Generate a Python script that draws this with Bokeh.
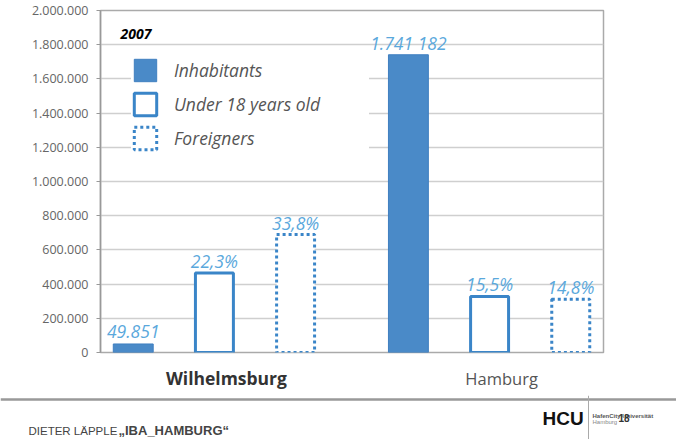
from bokeh.plotting import figure
from bokeh.models import (ColumnDataSource, FactorRange, Range1d, Legend, LegendItem,
                          Label, Span, SingleIntervalTicker, CustomJSTickFormatter)
from bokeh.transform import dodge
from bokeh.layouts import column
from bokeh.core.properties import value
from bokeh.embed import file_html
from bokeh.resources import INLINE

# ---- data ----
groups = ["Wilhelmsburg", "Hamburg"]
series = ["Inhabitants", "Under 18 years old", "Foreigners"]
inhabitants = [49851, 1741182]
under18 = [465000, 328000]          # bar heights as drawn
foreigners = [690000, 311000]       # bar heights as drawn
inhabitant_labels = ["49.851", "1.741 182"]
under18_labels = ["22,3%", "15,5%"]
foreigner_labels = ["33,8%", "14,8%"]
group_styles = ["bold", "normal"]
group_colors = ["#333333", "#555555"]
group_sizes = ["17.5px", "16.5px"]
year_label = "2007"

BLUE_FILL = "#4a8ac8"
BLUE_LINE = "#3a85c8"
LABEL_BLUE = "#5aa8dc"
FONT = "Open Sans"

src = ColumnDataSource(dict(group=groups, inh=inhabitants, u18=under18, frn=foreigners,
                            inh_l=inhabitant_labels, u18_l=under18_labels, frn_l=foreigner_labels,
                            style=group_styles, color=group_colors, size=group_sizes))

xr = FactorRange(factors=groups, range_padding=-0.086)
p = figure(width=676, height=360, x_range=xr,
           y_range=Range1d(0, 2000000), output_backend="svg", toolbar_location=None,
           min_border_left=100, min_border_right=73, min_border_top=10, min_border_bottom=8)

OFF = 0.295
r1 = p.vbar(x=dodge("group", -OFF, range=xr), top="inh", width=0.145, source=src,
            fill_color=BLUE_FILL, line_color="#3f7fc0", line_width=1)
r2 = p.vbar(x=dodge("group", 0.0, range=xr), top="u18", width=0.138, source=src,
            fill_color="white", line_color=BLUE_LINE, line_width=3)
r3 = p.vbar(x=dodge("group", OFF, range=xr), top="frn", width=0.138, source=src,
            fill_color="white", line_color=BLUE_LINE, line_width=3, line_dash="3 3")

for off, col in [(-OFF, "inh"), (0.0, "u18"), (OFF, "frn")]:
    p.text(x=dodge("group", off, range=xr), y=col, text=col + "_l", source=src,
           text_align="center", text_baseline="middle", y_offset=-12,
           text_font=value(FONT), text_font_style="italic", text_font_size="17.5px",
           text_color=LABEL_BLUE)

legend = Legend(items=[LegendItem(label=series[0], renderers=[r1]),
                       LegendItem(label=series[1], renderers=[r2]),
                       LegendItem(label=series[2], renderers=[r3])],
                location=(31, 200), glyph_width=28, glyph_height=28, label_height=28,
                spacing=6, padding=10, label_standoff=15, label_width=195,
                label_text_font=FONT, label_text_font_style="italic",
                label_text_font_size="17.5px", label_text_color="#555555",
                background_fill_color="white", background_fill_alpha=1.0,
                border_line_color=None)
p.add_layout(legend, "center")

p.add_layout(Label(x=20, y=1863000, x_units="screen", y_units="data", text=year_label,
                   text_font=FONT, text_font_style="bold italic", text_font_size="14px",
                   text_color="black", text_baseline="middle"))

p.xaxis.visible = False
p.xgrid.grid_line_color = None
p.ygrid.grid_line_color = "#cfcfcf"
p.ygrid.grid_line_width = 1.5
p.yaxis.ticker = SingleIntervalTicker(interval=200000)
p.yaxis.formatter = CustomJSTickFormatter(
    code="return String(Math.round(tick)).replace(/\\B(?=(\\d{3})+(?!\\d))/g, '.');")
p.yaxis.minor_tick_line_color = None
p.yaxis.major_tick_in = 0
p.yaxis.major_tick_out = 4
p.yaxis.major_tick_line_color = "#999999"
p.yaxis.axis_line_color = "#999999"
p.yaxis.axis_line_width = 1.5
p.yaxis.major_label_text_font = FONT
p.yaxis.major_label_text_font_size = "12.5px"
p.yaxis.major_label_text_color = "#666666"
p.yaxis.major_label_standoff = 8
p.outline_line_color = "#aaaaaa"
p.outline_line_width = 1.5

# ---- category labels strip (shares the x range, frame aligned with the chart) ----
m = figure(width=676, height=35, x_range=xr, y_range=Range1d(0, 1),
           output_backend="svg", toolbar_location=None,
           min_border_left=100, min_border_right=73, min_border_top=0, min_border_bottom=0,
           x_axis_location=None, y_axis_location=None)
m.grid.grid_line_color = None
m.outline_line_color = None
m.text(x="group", y=0.5, text="group", source=src, x_offset=12,
       text_align="center", text_baseline="middle", text_font=value(FONT),
       text_font_size="size", text_font_style="style", text_color="color")

# ---- slide footer ----
f = figure(width=676, height=44, x_range=Range1d(0, 676), y_range=Range1d(0, 44),
           output_backend="svg", toolbar_location=None, min_border=0,
           x_axis_location=None, y_axis_location=None)
f.frame_align = False
f.grid.grid_line_color = None
f.outline_line_color = None
f.add_layout(Span(location=40, dimension="width", line_color="#999999", line_width=2.5))
f.add_layout(Span(location=588, dimension="height", line_color="#aaaaaa", line_width=1))
f.add_layout(Label(x=28, y=9, text="DIETER LÄPPLE", text_font="Liberation Sans",
                   text_font_size="11.5px", text_color="#444444", text_baseline="middle"))
f.add_layout(Label(x=118, y=9, text="\u201eIBA_HAMBURG\u201c", text_font="Liberation Sans",
                   text_font_style="bold", text_font_size="13px", text_color="#444444",
                   text_baseline="middle"))
f.add_layout(Label(x=542, y=21, text="HCU", text_font="Liberation Sans", text_font_style="bold",
                   text_font_size="19px", text_color="#111111", text_baseline="middle"))
f.add_layout(Label(x=592, y=24, text="HafenCity Universität", text_font="Liberation Sans",
                   text_font_style="bold", text_font_size="6px", text_color="#555555",
                   text_baseline="middle"))
f.add_layout(Label(x=592, y=18, text="Hamburg", text_font="Liberation Sans",
                   text_font_size="6px", text_color="#888888", text_baseline="middle"))
f.add_layout(Label(x=618, y=22, text="18", text_font="Liberation Sans", text_font_style="bold",
                   text_font_size="10px", text_color="#333333", text_baseline="middle"))

layout = column(p, m, f, spacing=0)
open("out.html", "w").write(file_html(layout, INLINE))
